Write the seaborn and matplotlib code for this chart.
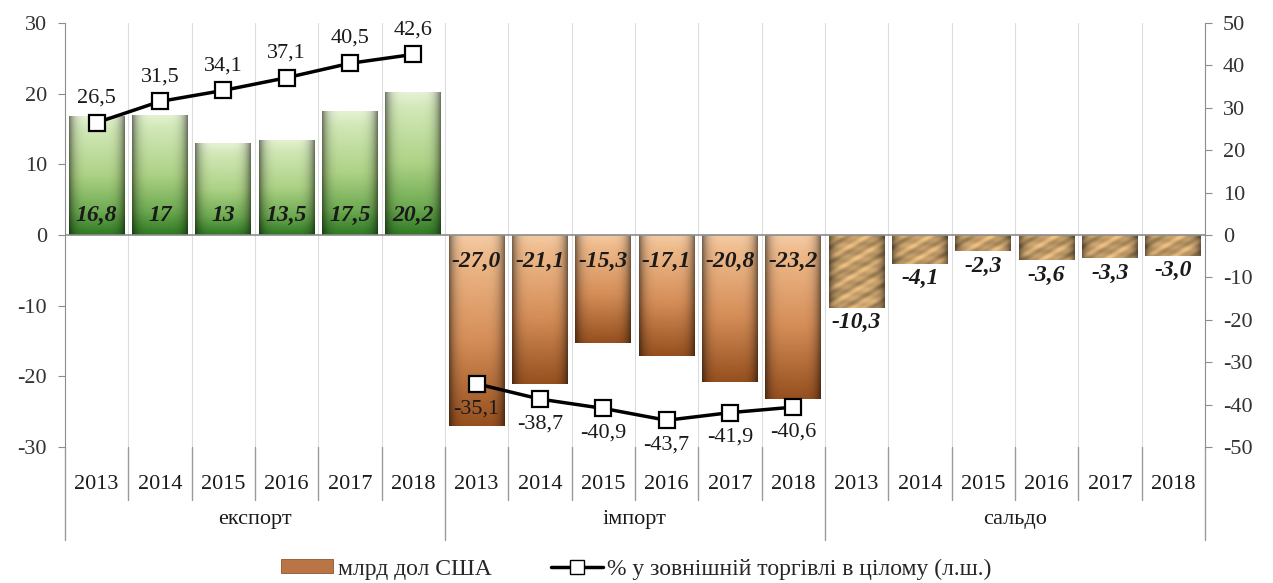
import numpy as np
import pandas as pd
import matplotlib
matplotlib.use("Agg")
import matplotlib.pyplot as plt
import seaborn as sns
from matplotlib.patches import Patch
from matplotlib.lines import Line2D
from matplotlib.colors import LinearSegmentedColormap

sns.set_style("white")
plt.rcParams['font.family'] = ['Liberation Serif', 'DejaVu Serif']
plt.rcParams['axes.unicode_minus'] = False

# ---------- data ----------
years = ['2013', '2014', '2015', '2016', '2017', '2018']
groups = ['експорт', 'імпорт', 'сальдо']
export_bn = [16.8, 17, 13, 13.5, 17.5, 20.2]
import_bn = [-27.0, -21.1, -15.3, -17.1, -20.8, -23.2]
saldo_bn = [-10.3, -4.1, -2.3, -3.6, -3.3, -3.0]
export_share = [26.5, 31.5, 34.1, 37.1, 40.5, 42.6]
import_share = [-35.1, -38.7, -40.9, -43.7, -41.9, -40.6]
legend_bar = 'млрд дол США'
legend_line = '% у зовнішній торгівлі в цілому (л.ш.)'

rows = []
for g, vals in zip(groups, [export_bn, import_bn, saldo_bn]):
    for y, v in zip(years, vals):
        rows.append({'group': g, 'year': y, 'key': f'{g} {y}', 'value': v})
df = pd.DataFrame(rows)
order = list(df['key'])

FS = 16
FS_BAR = 17


def fmt(v, short=False):
    s = f'{v:g}' if short else f'{v:.1f}'
    return s.replace('.', ',')


green_cmap = LinearSegmentedColormap.from_list(
    'g', [(0, '#e6f2d4'), (0.1, '#d3e9b9'), (0.5, '#add285'),
          (0.8, '#6eab52'), (1, '#2f7a24')])
brown_cmap = LinearSegmentedColormap.from_list(
    'b', [(0, '#f4cba4'), (0.1, '#efbb8c'), (0.55, '#d58e58'), (1, '#96501f')])

# ---------- figure ----------
fig = plt.figure(figsize=(12.73, 5.83), dpi=100)
ax = fig.add_axes([0.051, 0.2333, 0.8956, 0.7272])

sns.barplot(data=df, x='key', y='value', order=order, ax=ax, width=0.88,
            color='#b87848', saturation=1, edgecolor='none', zorder=2)


def gradient_fill(patch, cmap, edge=0.5):
    x0, w = patch.get_x(), patch.get_width()
    y0, h = patch.get_y(), patch.get_height()
    ylo, yhi = min(y0, y0 + h), max(y0, y0 + h)
    t = np.linspace(0, 1, 120)
    col = cmap(t)[:, None, :3]
    s = np.linspace(-1, 1, 60)[None, :, None]
    shade = 1 - edge * np.abs(s) ** 5
    img = np.clip(col * shade, 0, 1)
    im = ax.imshow(img, extent=[x0, x0 + w, ylo, yhi], aspect='auto',
                   origin='upper', zorder=2.5, interpolation='bilinear')
    im.set_clip_path(patch)


def texture_fill(patch):
    x0, w = patch.get_x(), patch.get_width()
    y0, h = patch.get_y(), patch.get_height()
    ylo, yhi = min(y0, y0 + h), max(y0, y0 + h)
    ny = max(int(abs(h) * 10), 6)
    xx, yy = np.meshgrid(np.linspace(0, 1, 80), np.linspace(0, abs(h) / 3, ny))
    base = np.array(matplotlib.colors.to_rgb('#c6a06c'))
    wave = (0.6 * np.sin(11 * xx + 8 * yy) + 0.35 * np.sin(27 * xx + 17 * yy + 1.3)
            + 0.25 * np.sin(5 * xx - 13 * yy + 0.4))
    img = base[None, None, :] * (1 + 0.2 * wave[..., None])
    s = np.linspace(-1, 1, 80)[None, :, None]
    img = img * (1 - 0.5 * np.abs(s) ** 5)
    img = np.clip(img, 0, 1)
    im = ax.imshow(img, extent=[x0, x0 + w, ylo, yhi], aspect='auto',
                   origin='upper', zorder=2.5, interpolation='bilinear')
    im.set_clip_path(patch)


for patch, g in zip(ax.patches, df['group']):
    if g == 'експорт':
        gradient_fill(patch, green_cmap)
    elif g == 'імпорт':
        gradient_fill(patch, brown_cmap)
    else:
        texture_fill(patch)

ax.set_xlim(-0.5, len(order) - 0.5)
ax.set_ylim(-30, 30)
ax.set_yticks(range(-30, 31, 10))
ax.axhline(0, color='#8c8c8c', lw=1.2, zorder=3)

# faint vertical gridlines between categories
for b in np.arange(0.5, len(order) - 1, 1.0):
    ax.axvline(b, color='#dcdcdc', lw=0.8, zorder=0)

# bar value labels
lab_kw = dict(ha='center', fontsize=FS_BAR, fontweight='bold',
              fontstyle='italic', color='#1a1a1a', zorder=5)
for i, (g, v) in enumerate(zip(df['group'], df['value'])):
    if g == 'експорт':
        ax.text(i, 2.8, fmt(v, short=True), va='center', **lab_kw)
    elif g == 'імпорт':
        ax.text(i, -3.8, fmt(v), va='center', **lab_kw)
    else:
        ax.text(i, v - 0.6, fmt(v), va='top', **lab_kw)

# multi-level category axis
ax.set_xticks(range(len(order)))
ax.set_xticklabels(list(df['year']), fontsize=FS, color='#1a1a1a')
ax.tick_params(axis='x', length=0, pad=20)
ax.set_xlabel('')
ax.set_ylabel('')
xt = ax.get_xaxis_transform()
n_years = len(years)
for k in range(len(order) + 1):
    xb = k - 0.5
    depth = -0.22 if k % n_years == 0 else -0.125
    ax.plot([xb, xb], [0, depth], transform=xt, color='#9a9a9a', lw=1,
            clip_on=False)
for j, g in enumerate(groups):
    ax.text(j * n_years + (n_years - 1) / 2, -0.172, g, transform=xt,
            ha='center', va='center', fontsize=FS, color='#1a1a1a')

for side in ['top', 'bottom', 'right']:
    ax.spines[side].set_visible(False)
ax.spines['left'].set_color('#8c8c8c')
ax.tick_params(axis='y', left=True, length=5, color='#8c8c8c', labelsize=FS,
               labelcolor='#333333', pad=8)

# ---------- right axis: share line ----------
ax2 = ax.twinx()
ax2.set_ylim(-50, 50)
ax2.set_yticks(range(-50, 51, 10))
line_kw = dict(color='black', lw=2.5, marker='s', markersize=12,
               markerfacecolor='white', markeredgecolor='black',
               markeredgewidth=1.6, zorder=6)
exp_pos = [order.index(f'експорт {y}') for y in years]
imp_pos = [order.index(f'імпорт {y}') for y in years]
sns.lineplot(x=exp_pos, y=export_share, ax=ax2, **line_kw)
sns.lineplot(x=imp_pos, y=import_share, ax=ax2, **line_kw)
for x, v in zip(exp_pos, export_share):
    ax2.annotate(fmt(v), (x, v), xytext=(0, 11), textcoords='offset points',
                 ha='center', va='bottom', fontsize=FS, color='#1a1a1a')
for x, v in zip(imp_pos, import_share):
    ax2.annotate(fmt(v), (x, v), xytext=(0, -11), textcoords='offset points',
                 ha='center', va='top', fontsize=FS, color='#1a1a1a')
ax2.set_xlim(-0.5, len(order) - 0.5)
for side in ['top', 'bottom', 'left']:
    ax2.spines[side].set_visible(False)
ax2.spines['right'].set_color('#8c8c8c')
ax2.tick_params(axis='y', right=True, length=5, color='#8c8c8c', labelsize=FS,
                labelcolor='#333333', pad=8)
ax2.set_ylabel('')

# ---------- legend ----------
handles = [Patch(facecolor='#b97545', edgecolor='#8a5530', lw=0.6),
           Line2D([0], [0], color='black', lw=2.5, marker='s', markersize=10,
                  markerfacecolor='white', markeredgecolor='black')]
fig.legend(handles, [legend_bar, legend_line], loc='center',
           bbox_to_anchor=(0.5, 0.024), ncol=2, frameon=False, fontsize=FS + 1,
           handlelength=2.2, handleheight=0.5, handletextpad=0.2,
           columnspacing=2.5)

fig.savefig('out.png', dpi=100)
